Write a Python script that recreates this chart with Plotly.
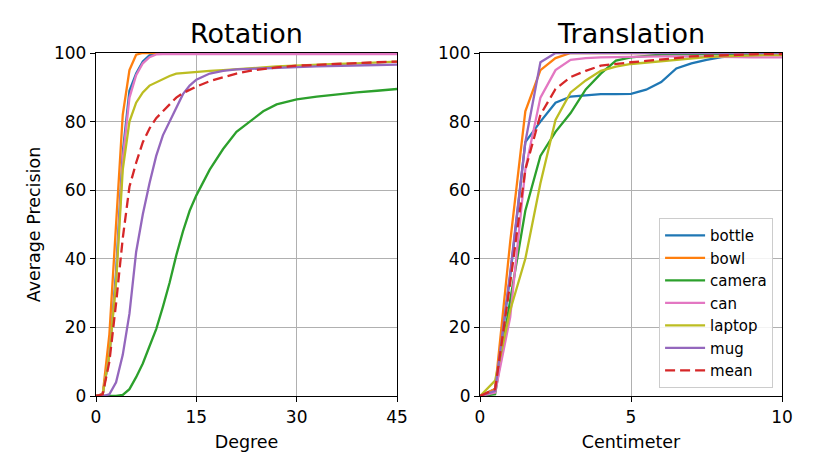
import plotly.graph_objects as go

# ---------------- data ----------------
rot_x = [0, 1, 2, 3, 4, 5, 6, 7, 8, 9, 10, 11, 12, 13, 14, 15, 17, 19, 21, 23, 25, 27, 30, 33, 36, 39, 42, 45]
rot_bottle = [0, 0.5, 12, 36, 71, 89, 94, 97.5, 99.3, 99.8, 99.8, 99.8, 99.8, 99.8, 99.8, 99.8, 99.8, 99.8, 99.8, 99.8, 99.8, 99.8, 99.8, 99.8, 99.8, 99.8, 99.8, 99.8]
rot_bowl = [0, 0.5, 18, 50, 82, 95, 99.5, 100, 100, 100, 100, 100, 100, 100, 100, 100, 100, 100, 100, 100, 100, 100, 100, 100, 100, 100, 100, 100]
rot_camera = [0, 0, 0, 0, 0.3, 2, 5.5, 9.5, 14.5, 19.5, 26, 33, 41, 48, 54, 58.5, 66, 72, 77, 80, 83, 85, 86.5, 87.3, 88, 88.5, 89, 89.5]
rot_can = [0, 0.5, 12, 34, 69, 87, 93.5, 97, 98.8, 99.6, 99.7, 99.7, 99.7, 99.7, 99.7, 99.7, 99.7, 99.7, 99.7, 99.7, 99.7, 99.7, 99.7, 99.7, 99.7, 99.7, 99.7, 99.7]
rot_laptop = [0, 0.5, 12, 33, 66, 80, 85.5, 88.5, 90.5, 91.5, 92.5, 93.3, 94, 94.2, 94.4, 94.6, 94.8, 95, 95.2, 95.5, 95.8, 96.1, 96.4, 96.6, 96.8, 97, 97.3, 97.5]
rot_mug = [0, 0, 0.5, 4, 12, 24, 42, 53, 62, 70, 76, 80, 84, 88, 90.5, 92.2, 94, 94.8, 95.2, 95.4, 95.6, 95.8, 95.9, 96.1, 96.3, 96.4, 96.5, 96.6]
rot_mean = [0, 0.5, 10, 27, 46, 61, 68, 74, 78, 81, 83, 85, 87, 88.3, 89.3, 90.2, 91.8, 93, 94, 94.8, 95.3, 95.8, 96.3, 96.6, 96.9, 97.1, 97.3, 97.5]

tra_x = [0, 0.5, 1, 1.5, 2, 2.5, 3, 3.5, 4, 4.5, 5, 5.5, 6, 6.5, 7, 7.5, 8, 8.5, 9, 9.5, 10]
tra_bottle = [0, 2, 35, 74, 80, 85.5, 87.3, 87.6, 88, 88, 88.1, 89.3, 91.5, 95.5, 97, 98, 98.8, 99.2, 99.4, 99.5, 99.5]
tra_bowl = [0, 2, 45, 83, 95, 98.5, 100, 100, 100, 100, 100, 100, 100, 100, 100, 100, 100, 100, 100, 100, 100]
tra_camera = [0, 0.5, 28, 54, 70, 77, 82.5, 89.4, 94, 97.8, 98.7, 99.2, 99.5, 99.6, 99.6, 99.7, 99.7, 99.7, 99.7, 99.7, 99.7]
tra_can = [0, 1, 23, 66, 87, 95, 98, 98.5, 98.7, 98.8, 99, 99, 99, 99, 99, 98.9, 98.8, 98.8, 98.7, 98.7, 98.7]
tra_laptop = [0, 4.5, 25, 40, 62, 80.5, 88.5, 92, 94.8, 96, 96.8, 97.2, 97.5, 98, 98.5, 98.8, 99, 99.2, 99.3, 99.4, 99.4]
tra_mug = [0, 1.5, 36, 74, 97.3, 100, 100, 100, 100, 100, 100, 100, 100, 100, 100, 100, 100, 100, 100, 100, 100]
tra_mean = [0, 2, 33, 66, 82, 89.5, 93, 94.8, 96.3, 96.9, 97.3, 97.7, 98, 98.5, 99, 99.2, 99.4, 99.5, 99.6, 99.7, 99.7]

names = ["bottle", "bowl", "camera", "can", "laptop", "mug", "mean"]
colors = ["#1f77b4", "#ff7f0e", "#2ca02c", "#e377c2", "#bcbd22", "#9467bd", "#d62728"]
rot_series = [rot_bottle, rot_bowl, rot_camera, rot_can, rot_laptop, rot_mug, rot_mean]
tra_series = [tra_bottle, tra_bowl, tra_camera, tra_can, tra_laptop, tra_mug, tra_mean]

FONT = "DejaVu Sans"
fig = go.Figure()

for name, col, ys in zip(names, colors, rot_series):
    fig.add_trace(go.Scatter(
        x=rot_x, y=ys, mode="lines", name=name, showlegend=False,
        line=dict(color=col, width=2.3, dash="10px,5px" if name == "mean" else "solid"),
        xaxis="x", yaxis="y"))
for name, col, ys in zip(names, colors, tra_series):
    fig.add_trace(go.Scatter(
        x=tra_x, y=ys, mode="lines", name=name, showlegend=True,
        line=dict(color=col, width=2.3, dash="10px,5px" if name == "mean" else "solid"),
        xaxis="x2", yaxis="y2"))

axis_common = dict(
    showline=True, linecolor="black", linewidth=1.3, mirror=True,
    ticks="outside", ticklen=5, tickwidth=1.2, tickcolor="black",
    showgrid=True, gridcolor="#b0b0b0", gridwidth=1.1,
    zeroline=False, tickfont=dict(family=FONT, size=17, color="black"),
)

fig.update_layout(
    width=806, height=467,
    paper_bgcolor="white", plot_bgcolor="white",
    margin=dict(l=88, r=32, t=45, b=79),
    font=dict(family=FONT, color="black"),
    xaxis=dict(domain=[0, 0.4388], range=[0, 45], tickvals=[0, 15, 30, 45],
               title=dict(text="Degree", font=dict(family=FONT, size=17.5, color="black"), standoff=10),
               anchor="y", **axis_common),
    yaxis=dict(domain=[0, 1], range=[0, 100], tickvals=[0, 20, 40, 60, 80, 100],
               title=dict(text="Average Precision", font=dict(family=FONT, size=17.5, color="black"), standoff=8),
               anchor="x", **axis_common),
    xaxis2=dict(domain=[0.5598, 1], range=[0, 10], tickvals=[0, 5, 10],
                title=dict(text="Centimeter", font=dict(family=FONT, size=17.5, color="black"), standoff=10),
                anchor="y2", **axis_common),
    yaxis2=dict(domain=[0, 1], range=[0, 100], tickvals=[0, 20, 40, 60, 80, 100],
                anchor="x2", **axis_common),
    legend=dict(x=0.987, y=0.023, xanchor="right", yanchor="bottom",
                bgcolor="rgba(255,255,255,0.85)", bordercolor="#cccccc", borderwidth=1,
                font=dict(family=FONT, size=15, color="black"), tracegroupgap=0,
                itemwidth=40),
    annotations=[
        dict(text="Rotation", xref="paper", yref="paper", x=0.2194, y=1.058,
             xanchor="center", yanchor="middle", showarrow=False,
             font=dict(family=FONT, size=27, color="black")),
        dict(text="Translation", xref="paper", yref="paper", x=0.7799, y=1.058,
             xanchor="center", yanchor="middle", showarrow=False,
             font=dict(family=FONT, size=27, color="black")),
    ],
)

fig.write_html("out.html")
